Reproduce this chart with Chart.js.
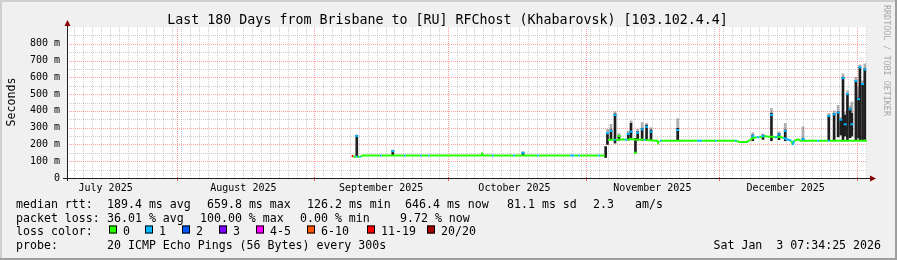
<!DOCTYPE html>
<html><head><meta charset="utf-8">
<style>html,body{margin:0;padding:0;background:#f0f0f0;overflow:hidden}#wrap{width:897px;height:260px;position:relative}</style>
<script src="https://cdn.jsdelivr.net/npm/chart.js@4.4.1/dist/chart.umd.min.js"></script>
</head><body><div id="wrap"><canvas id="c" width="897" height="260"></canvas></div>
<script>
// ---------------- data ----------------
const titleText = "Last 180 Days from Brisbane to [RU] RFChost (Khabarovsk) [103.102.4.4]";
const yAxisTitle = "Seconds";
const watermark = "RRDTOOL / TOBI OETIKER";
// y ticks (ms)
const yTickValues = [0,100,200,300,400,500,600,700,800];
const yTickLabels = ["0","100 m","200 m","300 m","400 m","500 m","600 m","700 m","800 m"];
// x axis: days since window start (Jul 7 2025 07:34)
const monthLabels = ["July 2025","August 2025","September 2025","October 2025","November 2025","December 2025"];
const monthLabelDays = [8.685,39.685,70.685,100.685,131.685,161.685];
const monthStartDays = [24.685,55.685,85.685,116.685,146.685,177.685];
// loss legend
const lossLabels = ["0","1","2","3","4-5","6-10","11-19","20/20"];
const lossColors = ["#26ff00","#00b8ff","#0059ff","#7e00ff","#ff00ff","#ff5500","#ff0000","#a10000"];
// median line (days, ms, loss class index)
const lineDays = [64.1,64.4,65.0,65.4,65.8,66.1,66.5,70.4,70.8,75.8,
  76.2,79.4,79.8,81.2,81.6,93.2,93.4,93.7,95.6,96.0,
  100.4,100.8,105.8,106.2,113.2,114.2,115.0,115.4,119.5,119.9,
  121.0,121.3,121.7,123.0,123.5,125.0,125.5,126.0,127.0,128.0,
  129.8,130.2,132.8,133.0,133.2,133.4,133.8,141.8,142.9,145.8,
  146.2,150.3,150.7,151.2,153.0,153.4,154.3,155.2,155.8,157.0,
  157.8,158.9,159.3,159.8,160.8,161.2,163.0,163.3,163.6,164.6,
  165.0,168.8,169.2,171.2,171.6,180.0];
const lineMedian = [134,127,127,127,127,127,134,134,134,134,
  134,134,134,134,134,134,145,134,134,134,
  134,134,134,134,134,134,134,134,134,134,
  134,null,226,230,226,231,230,228,232,228,
  230,226,222,209,222,222,222,222,222,222,
  222,222,222,215,215,222,238,243,243,250,
  246,246,240,246,243,238,222,197,222,230,
  222,222,222,222,222,222];
const lineLoss = [6,0,1,0,1,0,0,1,0,1,
  0,1,0,1,0,0,0,0,1,0,
  1,0,1,0,1,0,1,0,1,0,
  0,0,0,1,0,0,1,0,0,0,
  1,0,0,0,0,1,0,1,0,1,
  0,1,0,0,0,0,0,1,0,0,
  0,0,1,0,0,1,0,1,0,0,
  0,1,0,1,0,0];
// smoke spikes
const spikeDays = [65.2,73.3,102.6,121.2,121.6,122.4,123.3,124.2,126.3,126.9,
  127.9,128.4,129.4,130.4,131.4,137.4,154.3,156.6,158.5,160.2,
  161.6,165.6,171.4,172.6,173.5,174.1,174.6,175.1,175.6,176.2,
  176.6,177.5,178.1,178.4,179.0,179.5];
const spikeLow = [128,134,134,122,200,228,208,225,226,240,
  150,225,225,225,225,222,222,230,222,228,
  222,222,222,222,245,256,222,250,222,240,
  250,222,240,222,222,230];
const spikeHigh = [252,162,152,187,267,287,382,250,267,326,
  236,276,296,315,286,296,256,256,386,266,
  286,235,374,385,394,347,601,374,503,414,
  385,582,477,661,562,651];
const spikeTop = [258,167,157,187,290,320,395,265,280,340,
  236,290,330,325,300,354,270,262,415,275,
  326,305,384,400,433,360,621,390,520,430,
  453,600,542,674,580,680];
const spikeMedian = [250,160,150,null,267,280,375,250,262,276,
  151,270,290,305,276,286,250,250,376,260,
  280,232,370,380,390,347,595,320,500,410,
  320,578,470,659.8,560,646.4];
const spikeLoss = [1,1,1,0,1,1,1,0,1,1,
  0,1,1,1,1,1,1,1,1,1,
  1,1,1,1,1,1,1,1,1,1,
  1,1,1,1,1,1];
// legend texts
const rttLabel = "median rtt:";
const rttStats = ["189.4 ms avg","659.8 ms max","126.2 ms min","646.4 ms now","81.1 ms sd","2.3","am/s"];
const lossLabel = "packet loss:";
const lossStats = ["36.01 % avg","100.00 % max","0.00 % min","9.72 % now"];
const colorLabel = "loss color:";
const probeLabel = "probe:";
const probeText = "20 ICMP Echo Pings (56 Bytes) every 300s";
const dateText = "Sat Jan  3 07:34:25 2026";

// ---------------- chart ----------------
const MONO = '"DejaVu Sans Mono", "Liberation Mono", monospace';
const lineData = lineDays.map((d,i)=>({x:d,y:lineMedian[i]}));
const smoke = spikeDays.map((d,i)=>({x:d,y:[spikeLow[i],spikeHigh[i]]}));
const smokeTop = spikeDays.map((d,i)=>({x:d,y:[spikeHigh[i],spikeTop[i]]}));
const medMarks = spikeDays.map((d,i)=>({x:d,y:spikeMedian[i]}));

const rrdPlugin = {
  id:'rrd',
  beforeDraw(chart){
    const c = chart.ctx, a = chart.chartArea, W = chart.width, H = chart.height;
    const xs = chart.scales.x, ys = chart.scales.y;
    c.save();
    c.fillStyle = '#f0f0f0'; c.fillRect(0,0,W,H);
    // frame shades
    c.fillStyle = '#cfcfcf'; c.fillRect(0,0,W,2); c.fillRect(0,0,2,H);
    c.fillStyle = '#9e9e9e'; c.fillRect(0,H-2,W,2); c.fillRect(W-2,0,2,H);
    // canvas
    c.fillStyle = '#ffffff'; c.fillRect(a.left,a.top,a.right-a.left,a.bottom-a.top);
    c.lineWidth = 1; c.setLineDash([1,1]);
    const hline = (v,col)=>{const y=Math.round(ys.getPixelForValue(v))+0.5; c.strokeStyle=col; c.beginPath(); c.moveTo(a.left,y); c.lineTo(a.right,y); c.stroke();};
    const vline = (v,col)=>{const x=Math.round(xs.getPixelForValue(v))+0.5; c.strokeStyle=col; c.beginPath(); c.moveTo(x,a.top); c.lineTo(x,a.bottom); c.stroke();};
    const minorCol = 'rgba(128,128,128,0.38)', majorCol = 'rgba(255,0,0,0.38)';
    for(let v=50; v<ys.max; v+=50){ if(v%100!==0) hline(v,minorCol); }
    const jan1 = monthStartDays[monthStartDays.length-1];
    for(let v=jan1+2; v>0; v-=2){ if(v<xs.max && !monthStartDays.some(m=>Math.abs(m-v)<0.01)) vline(v,minorCol); }
    for(let v=100; v<ys.max; v+=100){ hline(v,majorCol); }
    monthStartDays.forEach(v=>{ if(v>xs.min && v<xs.max) vline(v,majorCol); });
    c.restore();
  },
  afterDatasetsDraw(chart){
    const c = chart.ctx, a = chart.chartArea, xs = chart.scales.x;
    c.save();
    c.setLineDash([]);
    // month tick marks
    c.strokeStyle = 'rgba(255,0,0,0.6)'; c.lineWidth = 1;
    monthStartDays.forEach(v=>{ if(v>xs.min && v<xs.max){const x=Math.round(xs.getPixelForValue(v))+0.5; c.beginPath(); c.moveTo(x,a.bottom-1); c.lineTo(x,a.bottom+3); c.stroke();}});
    // axes
    c.strokeStyle = '#1f1f1f'; c.lineWidth = 1;
    const ax = Math.round(a.left)+0.5, ay = Math.round(a.bottom)+0.5;
    c.beginPath(); c.moveTo(ax, a.bottom+3); c.lineTo(ax, a.top-4); c.stroke();
    c.beginPath(); c.moveTo(a.left-4, ay); c.lineTo(a.right+4, ay); c.stroke();
    // arrows
    c.fillStyle = '#8b0000';
    c.beginPath(); c.moveTo(ax-3, a.top-1); c.lineTo(ax+3, a.top-1); c.lineTo(ax, a.top-7); c.closePath(); c.fill();
    c.beginPath(); c.moveTo(a.right+3, ay-3); c.lineTo(a.right+3, ay+3); c.lineTo(a.right+9, ay); c.closePath(); c.fill();
    c.restore();
  },
  afterDraw(chart){
    const c = chart.ctx;
    c.save();
    c.fillStyle = '#000';
    c.textBaseline = 'alphabetic';
    c.font = '13.3px ' + MONO; c.textAlign = 'center';
    c.fillText(titleText, 447.5, 24);
    // y title
    c.save(); c.translate(15, 102); c.rotate(-Math.PI/2);
    c.font = '11.6px ' + MONO; c.textAlign = 'center'; c.fillText(yAxisTitle, 0, 0); c.restore();
    // watermark
    c.save(); c.translate(884, 5); c.rotate(Math.PI/2);
    c.font = '8.4px ' + MONO; c.textAlign = 'left'; c.fillStyle = '#a8a8a8'; c.fillText(watermark, 0, 0); c.restore();
    // legend rows
    c.font = '11.6px ' + MONO; c.textAlign = 'left';
    const r1 = 208, r2 = 221.7, r3 = 235.4, r4 = 249;
    c.fillText(rttLabel, 16, r1);
    const rttX = [107,207,307,405,507,593,635];
    rttStats.forEach((t,i)=>c.fillText(t, rttX[i], r1));
    c.fillText(lossLabel, 16, r2);
    const lossX = [107,200,300,400];
    lossStats.forEach((t,i)=>c.fillText(t, lossX[i], r2));
    c.fillText(colorLabel, 16, r3);
    const boxX = [109,145,182,219,256,307,367,427];
    lossLabels.forEach((t,i)=>{
      c.fillStyle = lossColors[i]; c.fillRect(boxX[i], 225.5, 8, 8);
      c.strokeStyle = '#000'; c.lineWidth = 1; c.strokeRect(boxX[i]+0.5, 225.5+0.5, 7, 7);
      c.fillStyle = '#000'; c.fillText(t, boxX[i]+14, r3);
    });
    c.fillText(probeLabel, 16, r4);
    c.fillText(probeText, 107, r4);
    c.textAlign = 'right'; c.fillText(dateText, 881, r4);
    c.restore();
  }
};

new Chart(document.getElementById('c').getContext('2d'), {
  type:'bar',
  data:{datasets:[
    {type:'bar', data:smokeTop, backgroundColor:'rgba(110,110,110,0.55)', barThickness:2, grouped:false, order:4},
    {type:'bar', data:smoke, backgroundColor:'#1e1e1e', barThickness:2, grouped:false, order:3},
    {type:'line', data:lineData, borderWidth:2, pointRadius:0, spanGaps:false, tension:0, borderColor:lossColors[0],
      segment:{borderColor:c=>lossColors[lineLoss[c.p0DataIndex]]}, order:2},
    {type:'line', data:medMarks, showLine:false, pointStyle:'line', pointRadius:1.5, pointBorderWidth:2,
      pointBorderColor:c=>lossColors[spikeLoss[c.dataIndex]], pointBackgroundColor:c=>lossColors[spikeLoss[c.dataIndex]], order:1}
  ]},
  options:{
    responsive:false, animation:false, devicePixelRatio:1,
    layout:{padding:{left:0,right:30,top:27,bottom:62}},
    plugins:{legend:{display:false},tooltip:{enabled:false}},
    scales:{
      x:{type:'linear', min:0, max:180, offset:false,
        grid:{display:false, drawTicks:false}, border:{display:false},
        afterBuildTicks:s=>{ s.ticks = monthLabelDays.map(v=>({value:v})); },
        afterFit:s=>{ s.height = 20; },
        ticks:{autoSkip:false, maxRotation:0, minRotation:0, padding:4, color:'#000',
          font:{family:MONO, size:10},
          callback:v=>{ const i = monthLabelDays.indexOf(v); return i>=0 ? monthLabels[i] : ''; }}},
      y:{type:'linear', min:0, max:900,
        grid:{display:false, drawTicks:false}, border:{display:false},
        afterBuildTicks:s=>{ s.ticks = yTickValues.map(v=>({value:v})); },
        afterFit:s=>{ s.width = 67; },
        ticks:{autoSkip:false, padding:7, color:'#000', font:{family:MONO, size:10},
          callback:v=>{ const i = yTickValues.indexOf(v); return i>=0 ? yTickLabels[i] : ''; }}}
    }
  },
  plugins:[rrdPlugin]
});
</script>
</body></html>
